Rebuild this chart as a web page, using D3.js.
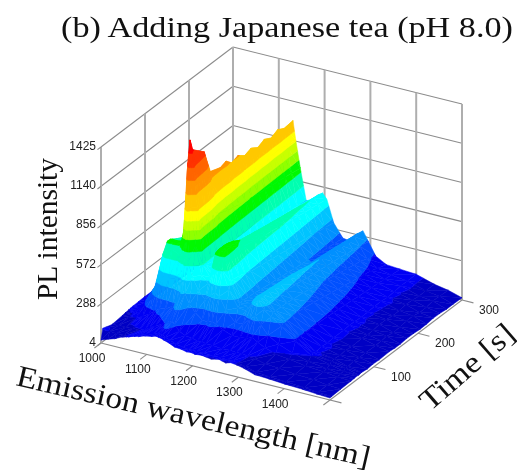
<!DOCTYPE html>
<html>
<head>
<meta charset="utf-8">
<script src="https://cdnjs.cloudflare.com/ajax/libs/d3/7.8.5/d3.min.js"></script>
<style>
  html, body { margin: 0; padding: 0; background: #fff; }
  svg { display: block; filter: blur(0.6px); }
</style>
</head>
<body>
<div id="chart"></div>
<script>
var titleText = '(b) Adding Japanese tea (pH 8.0)';
var zLabel = 'PL intensity';
var wLabel = 'Emission wavelength [nm]';
var tLabel = 'Time [s]';

var zTicks = [4, 288, 572, 856, 1140, 1425];
var wTicks = [1000, 1100, 1200, 1300, 1400];
var tTicks = [100, 200, 300];

var bandLimits = [93, 182, 271, 360, 449, 545, 640, 725, 790, 855, 925, 1040, 1140, 1230, 1330];
var bandColors = ['#0000c4', '#0000f4', '#0050ff', '#0090ff', '#00c4ff', '#00ffff', '#00ffb0', '#00f800',
  '#90ff00', '#c8ff00', '#ffff00', '#ffc800', '#ff9600', '#ff6400', '#ff3200', '#ff0000'];

var wavelengths = [1000, 1015, 1030, 1045, 1060, 1072, 1082, 1095, 1110, 1120, 1126, 1131, 1137, 1147, 1160, 1175,
  1187, 1196, 1205, 1220, 1240, 1258, 1272, 1284, 1296, 1312, 1335, 1365, 1400, 1440, 1470, 1500];
var times = [0, 4, 25, 48, 55, 62, 66, 72, 85, 98, 112, 135, 148, 160, 175, 190, 205, 220, 235, 250, 265, 280, 300];

// one spectrum per time
var s0   = [25, 44, 60, 84, 98, 112, 118, 133, 142, 152, 148, 146, 138, 128, 108, 103, 94, 97, 92, 96, 86, 98, 84, 96, 90, 78, 52, 47, 38, 32, 24, 18];
var s4   = [100, 92, 88, 90, 96, 108, 122, 138, 150, 160, 165, 160, 150, 135, 118, 110, 104, 108, 102, 104, 98, 102, 96, 100, 92, 82, 60, 52, 44, 36, 26, 20];
var s25  = [78, 84, 82, 86, 90, 100, 120, 148, 170, 190, 205, 208, 192, 150, 128, 122, 113, 116, 108, 107, 101, 104, 99, 102, 94, 88, 68, 62, 48, 42, 28, 24];
var s48  = [86, 88, 92, 120, 150, 180, 205, 215, 245, 290, 345, 380, 358, 292, 240, 200, 195, 205, 195, 165, 140, 142, 148, 162, 138, 112, 84, 72, 54, 44, 30, 26];
var s55  = [90, 92, 120, 190, 262, 340, 410, 420, 430, 480, 510, 610, 570, 472, 382, 330, 372, 400, 378, 290, 218, 222, 268, 302, 248, 186, 138, 100, 68, 50, 34, 27];
var s62  = [92, 96, 140, 222, 318, 500, 604, 610, 590, 700, 990, 1150, 950, 682, 478, 432, 540, 576, 552, 420, 308, 302, 368, 402, 342, 300, 255, 168, 95, 62, 38, 30];
var s66  = [95, 99, 150, 245, 330, 550, 652, 650, 640, 790, 1250, 1425, 1302, 948, 540, 466, 652, 680, 668, 470, 328, 322, 388, 412, 368, 325, 278, 180, 102, 76, 50, 26];
var s72  = [96, 102, 148, 240, 322, 532, 650, 648, 638, 772, 1172, 1340, 1222, 898, 530, 472, 660, 690, 676, 474, 336, 326, 394, 414, 372, 322, 276, 182, 98, 80, 48, 30];
var s85  = [98, 101, 146, 232, 316, 512, 622, 622, 630, 760, 1140, 1300, 1188, 880, 520, 468, 660, 685, 668, 468, 328, 320, 386, 408, 366, 320, 272, 176, 104, 74, 54, 24];
var s98  = [100, 104, 142, 226, 304, 490, 598, 612, 626, 742, 1098, 1262, 1140, 862, 518, 474, 645, 668, 640, 452, 326, 318, 382, 404, 362, 316, 268, 180, 98, 78, 50, 28];
var s112 = [99, 102, 140, 220, 296, 470, 576, 590, 612, 700, 950, 1085, 996, 792, 514, 470, 618, 640, 606, 436, 318, 314, 376, 396, 356, 310, 262, 176, 102, 72, 52, 25];
var s135 = [101, 105, 136, 212, 284, 448, 548, 566, 590, 688, 930, 1058, 958, 760, 510, 470, 602, 625, 588, 424, 308, 304, 368, 386, 348, 300, 250, 172, 100, 76, 48, 29];
var s148 = [97, 102, 134, 208, 280, 438, 536, 556, 582, 682, 940, 1074, 966, 752, 504, 474, 592, 618, 578, 418, 304, 298, 362, 382, 340, 292, 242, 168, 106, 70, 52, 24];
var s160 = [98, 103, 132, 206, 276, 430, 524, 546, 572, 672, 910, 1032, 930, 742, 500, 466, 584, 610, 570, 410, 298, 294, 358, 376, 334, 284, 234, 164, 104, 74, 54, 23];
var s175 = [100, 100, 130, 202, 270, 420, 512, 534, 564, 666, 920, 1048, 936, 732, 496, 472, 576, 600, 562, 402, 290, 288, 350, 370, 326, 274, 224, 158, 98, 78, 46, 28];
var s190 = [100, 102, 128, 198, 266, 412, 502, 524, 556, 660, 896, 1012, 912, 722, 490, 468, 568, 592, 554, 396, 284, 282, 344, 364, 320, 264, 214, 154, 100, 78, 50, 27];
var s205 = [96, 104, 127, 194, 260, 404, 492, 516, 548, 654, 908, 1030, 918, 714, 486, 474, 558, 582, 544, 388, 278, 274, 338, 358, 314, 254, 204, 148, 104, 70, 56, 22];
var s220 = [97, 104, 126, 192, 256, 396, 482, 506, 540, 648, 884, 998, 894, 706, 478, 466, 550, 575, 536, 380, 272, 268, 332, 352, 306, 244, 194, 144, 106, 72, 56, 24];
var s235 = [101, 100, 124, 188, 252, 390, 472, 498, 532, 644, 896, 1022, 900, 700, 474, 472, 542, 566, 526, 372, 264, 262, 326, 346, 300, 234, 184, 138, 98, 78, 46, 30];
var s250 = [99, 101, 122, 186, 248, 382, 464, 490, 526, 640, 870, 994, 882, 694, 466, 464, 534, 558, 518, 364, 258, 254, 320, 342, 292, 224, 174, 134, 102, 76, 48, 28];
var s265 = [95, 103, 121, 182, 244, 374, 456, 482, 520, 636, 884, 1018, 888, 686, 460, 470, 526, 548, 510, 354, 252, 248, 312, 336, 284, 214, 164, 128, 110, 68, 56, 22];
var s280 = [96, 102, 120, 180, 240, 368, 448, 476, 514, 632, 862, 992, 872, 680, 452, 466, 518, 540, 502, 346, 246, 242, 306, 332, 274, 196, 146, 122, 108, 70, 54, 22];
var s300 = [98, 100, 118, 176, 234, 358, 436, 466, 506, 626, 870, 1000, 866, 668, 442, 466, 510, 528, 490, 332, 238, 228, 298, 326, 258, 166, 124, 116, 108, 68, 50, 20];
var spectra = [s0, s4, s25, s48, s55, s62, s66, s72, s85, s98, s112, s135, s148, s160, s175, s190, s205, s220, s235, s250, s265, s280, s300];

var width = 517, height = 470;
var svg = d3.select('#chart').append('svg').attr('width', width).attr('height', height);

var wScale = d3.scaleLinear().domain([1000, 1500]).range([0, 1]);
var tScale = d3.scaleLinear().domain([0, 300]).range([0, 1]);
var zScale = d3.scaleLinear().domain([4, 1425]).range([0, 196]);

// parallel projection, floor corner at w=1000, t=0
function px(w, t) { return 101 + 229 * wScale(w) + 132 * tScale(t); }
function py(w, t, z) { return 343 + 57 * wScale(w) - 100 * tScale(t) - zScale(z); }
function line(a, b) { return 'M' + px(a[0], a[1]) + ',' + py(a[0], a[1], a[2]) + 'L' + px(b[0], b[1]) + ',' + py(b[0], b[1], b[2]); }

var grid = svg.append('g').attr('fill', 'none');

function gridPath(d, heavy) {
  grid.append('path').attr('d', d)
    .attr('stroke', heavy ? '#aeaeae' : '#8c8c8c')
    .attr('stroke-width', heavy ? 2 : 1.1);
}

// walls
zTicks.forEach(function(z) {
  gridPath(line([1000, 0, z], [1000, 300, z]));
  gridPath(line([1000, 300, z], [1500, 300, z]));
});
[0, 100, 200, 300].forEach(function(t) { gridPath(line([1000, t, 4], [1000, t, 1425]), true); });
[1100, 1200, 1300, 1400, 1500].forEach(function(w) { gridPath(line([w, 300, 4], [w, 300, 1425]), true); });

// floor edges and tick stubs
gridPath(line([1000, 0, 4], [1500, 0, 4]));
gridPath(line([1500, 0, 4], [1500, 300, 4]));
wTicks.concat([1500]).forEach(function(w) { gridPath(line([w, 0, 4], [w, -15, 4])); });
[0, 100, 200, 300].forEach(function(t) { gridPath(line([1500, t, 4], [1525, t, 4])); });
zTicks.forEach(function(z) { gridPath(line([1000, 0, z], [1000, -8, z])); });

// keep the part of a triangle on one side of a z level
function clipZ(poly, level, keepAbove) {
  var out = [];
  poly.forEach(function(a, i) {
    var b = poly[(i + 1) % poly.length];
    var aIn = keepAbove ? a[2] >= level : a[2] <= level;
    var bIn = keepAbove ? b[2] >= level : b[2] <= level;
    if (aIn) out.push(a);
    if (aIn !== bIn) {
      var f = (level - a[2]) / (b[2] - a[2]);
      out.push([a[0] + f * (b[0] - a[0]), a[1] + f * (b[1] - a[1]), level]);
    }
  });
  return out;
}

var color = d3.scaleThreshold().domain(bandLimits).range(bandColors);
var polys = [];

function addTriangle(tri) {
  bandColors.forEach(function(c) {
    var range = color.invertExtent(c);
    var p = tri;
    if (range[0] !== undefined) p = clipZ(p, range[0], true);
    if (p.length && range[1] !== undefined) p = clipZ(p, range[1], false);
    if (p.length > 2) polys.push({ points: p, fill: c });
  });
}

// painter's order: back rows first, then left to right
for (var r = times.length - 2; r >= 0; r--) {
  for (var c = 0; c < wavelengths.length - 1; c++) {
    var a = [wavelengths[c], times[r + 1], spectra[r + 1][c]];
    var b = [wavelengths[c + 1], times[r + 1], spectra[r + 1][c + 1]];
    var d = [wavelengths[c], times[r], spectra[r][c]];
    var e = [wavelengths[c + 1], times[r], spectra[r][c + 1]];
    addTriangle([a, b, d]);
    addTriangle([b, e, d]);
  }
}

svg.append('g').selectAll('path').data(polys).join('path')
  .attr('d', function(p) {
    return 'M' + p.points.map(function(q) { return px(q[0], q[1]) + ',' + py(q[0], q[1], q[2]); }).join('L') + 'Z';
  })
  .attr('fill', function(p) { return p.fill; })
  .attr('stroke', function(p) { return p.fill; })
  .attr('stroke-width', 0.5)
  .attr('stroke-linejoin', 'round');

// tick labels
var sans = '"Liberation Sans", Arial, sans-serif';
var serif = '"Liberation Serif", "Times New Roman", serif';

svg.append('g').selectAll('text').data(zTicks).join('text')
  .attr('x', 96).attr('y', function(z) { return py(1000, 0, z) + 3; })
  .attr('text-anchor', 'end').attr('font-family', sans).attr('font-size', 12).attr('fill', '#222')
  .text(function(z) { return z; });

svg.append('g').selectAll('text').data(wTicks).join('text')
  .attr('x', function(w) { return px(w, 0) - 9; })
  .attr('y', function(w) { return py(w, 0, 4) + 19; })
  .attr('text-anchor', 'middle').attr('font-family', sans).attr('font-size', 12).attr('fill', '#222')
  .text(function(w) { return w; });

svg.append('g').selectAll('text').data(tTicks).join('text')
  .attr('x', function(t) { return px(1500, t) + 27; })
  .attr('y', function(t) { return py(1500, t, 4) + 14; })
  .attr('text-anchor', 'middle').attr('font-family', sans).attr('font-size', 12).attr('fill', '#222')
  .text(function(t) { return t; });

// titles, stretched like the reference
function label(text, x, y, angle, length) {
  svg.append('text').attr('transform', 'translate(' + x + ',' + y + ') rotate(' + angle + ')')
    .attr('font-family', serif).attr('font-size', 30).attr('fill', '#111')
    .attr('textLength', length).attr('lengthAdjust', 'spacingAndGlyphs')
    .text(text);
}
label(titleText, 61, 37, 0, 452);
label(zLabel, 57, 300, -90, 142);
label(wLabel, 15, 385, 13.1, 362);
label(tLabel, 430, 412, -41, 115);
</script>
</body>
</html>
